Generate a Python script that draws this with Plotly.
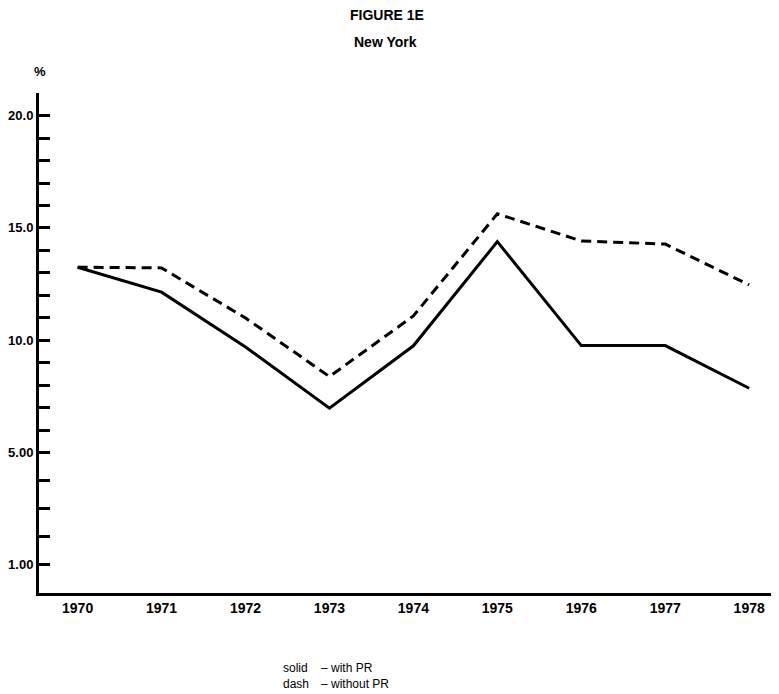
import plotly.graph_objects as go

years = [1970, 1971, 1972, 1973, 1974, 1975, 1976, 1977, 1978]
with_pr = [13.25, 12.14, 9.70, 6.97, 9.75, 14.39, 9.76, 9.76, 7.86]
without_pr = [13.25, 13.22, 10.99, 8.38, 11.08, 15.63, 14.42, 14.28, 12.46]

# y axis: label "1.00" sits where 0 would be on the linear scale
y_tickvals = [0, 1.25, 2.5, 3.75, 5, 6, 7, 8, 9, 10, 11, 12, 13, 14, 15, 16, 17, 18, 19, 20]
y_ticktext = ["1.00", "", "", "", "5.00", "", "", "", "", "10.0", "", "", "", "",
              "15.0", "", "", "", "", "20.0"]

FONT = "Liberation Sans, Arial, sans-serif"

fig = go.Figure()
fig.add_trace(go.Scatter(x=years, y=with_pr, mode="lines",
                         line=dict(color="black", width=3), name="with PR"))
fig.add_trace(go.Scatter(x=years, y=without_pr, mode="lines",
                         line=dict(color="black", width=3, dash="10px,6px"), name="without PR"))

OFF = 8  # page body margin
W, H = 779 - OFF, 694 - OFF
L, R, T, B = 39 - OFF, 8, 93 - OFF, 101
pw = W - L - R
ph = H - T - B

def px(x):
    return (x - OFF - L) / pw

def py(y):
    return (H - B - (y - OFF)) / ph

fig.update_layout(
    width=W, height=H,
    margin=dict(l=L, r=R, t=T, b=B, autoexpand=False),
    paper_bgcolor="white", plot_bgcolor="white",
    showlegend=False,
    font=dict(family=FONT, color="black"),
    xaxis=dict(range=[1969.54, 1978.26], tickmode="array", tickvals=years,
               ticktext=[str(y) for y in years], showgrid=False, zeroline=False,
               showline=True, linecolor="black", linewidth=3, ticks="",
               automargin=False,
               tickfont=dict(family=FONT, size=14, color="black", weight="bold")),
    yaxis=dict(range=[-1.26, 21.01], tickmode="array", tickvals=y_tickvals,
               ticktext=y_ticktext, showgrid=False, zeroline=False,
               showline=True, linecolor="black", linewidth=3,
               ticks="inside", ticklen=11, tickwidth=3, tickcolor="black",
               automargin=False,
               tickfont=dict(family=FONT, size=13, color="black", weight="bold")),
    annotations=[
        dict(text="<b>FIGURE 1E</b>", x=px(387), y=py(15), xref="paper", yref="paper",
             showarrow=False, font=dict(size=14, family=FONT), xanchor="center", yanchor="middle"),
        dict(text="<b>New York</b>", x=px(385), y=py(42), xref="paper", yref="paper",
             showarrow=False, font=dict(size=14, family=FONT), xanchor="center", yanchor="middle"),
        dict(text="<b>%</b>", x=px(40), y=py(72), xref="paper", yref="paper",
             showarrow=False, font=dict(size=13, family=FONT), xanchor="center", yanchor="middle"),
        dict(text="solid<br>dash", x=px(281), y=py(676), xref="paper", yref="paper",
             showarrow=False, font=dict(size=12, family=FONT), xanchor="left", yanchor="middle",
             align="left"),
        dict(text="\u2013 with PR<br>\u2013 without PR", x=px(319), y=py(676), xref="paper", yref="paper",
             showarrow=False, font=dict(size=12, family=FONT), xanchor="left", yanchor="middle",
             align="left"),
    ],
)

fig.write_html("out.html")
